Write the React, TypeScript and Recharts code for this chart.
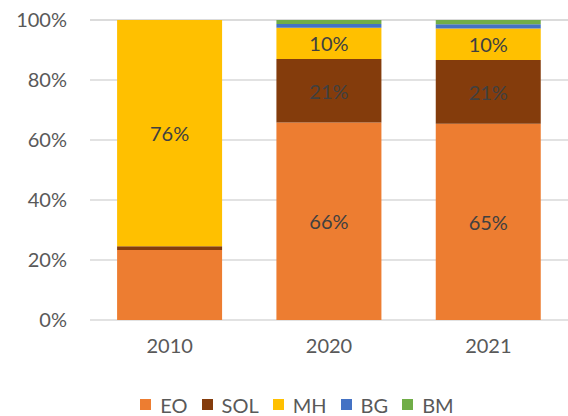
import React from 'react';
import {
  BarChart,
  Bar,
  XAxis,
  YAxis,
  CartesianGrid,
  Legend,
  LabelList,
} from 'recharts';

const years = ['2010', '2020', '2021'];
const eo = [23.3, 65.8, 65.4];
const sol = [1.3, 21.2, 21.3];
const mh = [75.4, 10.4, 10.5];
const bg = [0, 1.3, 1.4];
const bm = [0, 1.3, 1.4];

const eoLabels = ['', '66%', '65%'];
const solLabels = ['', '21%', '21%'];
const mhLabels = ['76%', '10%', '10%'];

const yTicks = [0, 20, 40, 60, 80, 100];

const series = [
  { key: 'EO', color: '#ED7D31', labels: eoLabels },
  { key: 'SOL', color: '#843C0C', labels: solLabels },
  { key: 'MH', color: '#FFC000', labels: mhLabels },
  { key: 'BG', color: '#4472C4', labels: null },
  { key: 'BM', color: '#70AD47', labels: null },
];

const data = years.map((y, i) => ({
  year: y,
  EO: eo[i],
  SOL: sol[i],
  MH: mh[i],
  BG: bg[i],
  BM: bm[i],
}));

const FONT = 'Lato, "Liberation Sans", sans-serif';
const FS = 20;

const makeLabel = (labels: string[]) => (props: any) => {
  const { x, y, width, height, index } = props;
  const txt = labels[index];
  if (!txt) return null;
  return (
    <text
      x={Number(x) + Number(width) / 2}
      y={Number(y) + Number(height) / 2}
      textAnchor="middle"
      dominantBaseline="central"
      fill="#404040"
      fontSize={FS}
      fontFamily={FONT}
    >
      {txt}
    </text>
  );
};

const LegendBox = () => (
  <div
    style={{
      display: 'flex',
      justifyContent: 'center',
      alignItems: 'center',
      fontFamily: FONT,
      fontSize: FS,
      color: '#595959',
      paddingLeft: 40,
      height: 23,
    }}
  >
    {series.map(s => (
      <div key={s.key} style={{ display: 'flex', alignItems: 'center', marginRight: 14 }}>
        <span style={{ width: 11, height: 11, background: s.color, display: 'inline-block', marginRight: 9 }} />
        <span>{s.key}</span>
      </div>
    ))}
  </div>
);

export default function App() {
  return (
    <div style={{ position: 'absolute', left: 0, top: 0, background: '#fff' }}>
      <BarChart
        width={568}
        height={416}
        data={data}
        margin={{ top: 20, right: 0, left: 0, bottom: 0 }}
        barCategoryGap="17%"
      >
        <CartesianGrid vertical={false} stroke="#d9d9d9" strokeWidth={1.5} />
        <XAxis
          dataKey="year"
          axisLine={false}
          tickLine={false}
          tickMargin={13}
          height={73}
          tick={{ fontSize: FS, fill: '#595959', fontFamily: FONT }}
        />
        <YAxis
          domain={[0, 100]}
          ticks={yTicks}
          tickFormatter={(v: number) => `${v}%`}
          axisLine={false}
          tickLine={false}
          tickMargin={17}
          width={90}
          tick={{ fontSize: FS, fill: '#595959', fontFamily: FONT }}
        />
        <Legend verticalAlign="bottom" content={() => <LegendBox />} />
        {series.map(s => (
          <Bar key={s.key} dataKey={s.key} stackId="a" fill={s.color} isAnimationActive={false}>
            {s.labels && <LabelList dataKey={s.key} content={makeLabel(s.labels)} />}
          </Bar>
        ))}
      </BarChart>
    </div>
  );
}
